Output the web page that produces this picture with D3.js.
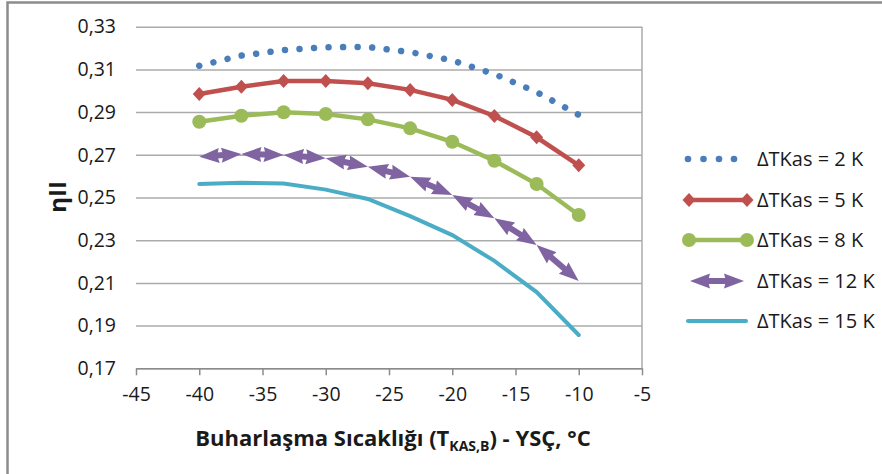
<!DOCTYPE html>
<html>
<head>
<meta charset="utf-8">
<script src="https://cdn.jsdelivr.net/npm/d3@7/dist/d3.min.js"></script>
<style>
  body { margin: 0; background: #fff; }
  text { font-family: "Open Sans", "Liberation Sans", sans-serif; fill: #1a1a1a; }
</style>
</head>
<body>
<div id="chart"></div>
<script>
// evaporation temperature, °C
const temps = [-40, -36.67, -33.33, -30, -26.67, -23.33, -20, -16.67, -13.33, -10];

// second law efficiency for each ΔTKas
const eta2K  = [0.3117, 0.3165, 0.3190, 0.3204, 0.3205, 0.3181, 0.3142, 0.3078, 0.2994, 0.2887];
const eta5K  = [0.2985, 0.3019, 0.3046, 0.3046, 0.3035, 0.3004, 0.2957, 0.2882, 0.2782, 0.2651];
const eta8K  = [0.2855, 0.2883, 0.2899, 0.2891, 0.2866, 0.2824, 0.2761, 0.2672, 0.2563, 0.2418];
const eta12K = [0.2691, 0.2704, 0.2699, 0.2684, 0.2644, 0.2597, 0.2512, 0.2403, 0.2278, 0.2109];
const eta15K = [0.2563, 0.2569, 0.2566, 0.2537, 0.2493, 0.2413, 0.2324, 0.2203, 0.2057, 0.1856];

const seriesNames = ["ΔTKas = 2 K", "ΔTKas = 5 K", "ΔTKas = 8 K", "ΔTKas = 12 K", "ΔTKas = 15 K"];
const xTicks = [-45, -40, -35, -30, -25, -20, -15, -10, -5];
const yTicks = [0.17, 0.19, 0.21, 0.23, 0.25, 0.27, 0.29, 0.31, 0.33];

const width = 882;
const height = 474;
const plotL = 136, plotR = 642, plotT = 26.7, plotB = 368.3;

const colors = ["#4a7ebb", "#c0504d", "#9bbb59", "#8064a2", "#4bacc6"];

const svg = d3.select("#chart").append("svg")
  .attr("width", width)
  .attr("height", height)
  .style("background", "#fff");

// outer chart frame (right/bottom edges are off the picture)
svg.append("path")
  .attr("d", `M7.5,${height + 5}V2.5H${width + 5}`)
  .attr("fill", "none")
  .attr("stroke", "#8c8c8c")
  .attr("stroke-width", 2.5);

const x = d3.scaleLinear().domain([-45, -5]).range([plotL, plotR]);
const y = d3.scaleLinear().domain([0.17, 0.33]).range([plotB, plotT]);

const fmtY = v => d3.format(".2f")(v).replace(".", ",");

// y gridlines + labels
const yAxis = svg.append("g")
  .attr("transform", `translate(${plotL},0)`)
  .call(d3.axisLeft(y).tickValues(yTicks).tickSize(-(plotR - plotL)).tickPadding(20).tickFormat(fmtY));
yAxis.select(".domain").remove();
yAxis.selectAll("line").attr("stroke", "#ababab").attr("stroke-width", 1.5);
yAxis.selectAll("text").style("font-size", "19.5px").attr("fill", "#1a1a1a");

// plot area right edge
svg.append("line")
  .attr("x1", plotR).attr("x2", plotR)
  .attr("y1", plotT).attr("y2", plotB)
  .attr("stroke", "#ababab").attr("stroke-width", 1.5);

// x axis
const xAxis = svg.append("g")
  .attr("transform", `translate(0,${plotB})`)
  .call(d3.axisBottom(x).tickValues(xTicks).tickSize(7).tickSizeOuter(0).tickPadding(12).tickFormat(d => d));
xAxis.select(".domain").attr("stroke", "#8c8c8c").attr("stroke-width", 1.5);
xAxis.selectAll("line").attr("stroke", "#8c8c8c").attr("stroke-width", 1.5);
xAxis.selectAll("text").style("font-size", "19.5px").attr("fill", "#1a1a1a");

// axis titles
const xTitle = svg.append("text")
  .attr("x", (plotL + plotR) / 2 + 4)
  .attr("y", 446)
  .attr("text-anchor", "middle")
  .style("font-size", "22px")
  .style("font-weight", "bold");
xTitle.append("tspan").text("Buharlaşma  Sıcaklığı (T");
xTitle.append("tspan").attr("dy", 5).style("font-size", "14px").text("KAS,B");
xTitle.append("tspan").attr("dy", -5).text(") - YSÇ, °C");

svg.append("text")
  .attr("transform", "translate(66,197) rotate(-90)")
  .attr("text-anchor", "middle")
  .style("font-size", "24px")
  .style("font-weight", "bold")
  .text("ηII");

const defs = svg.append("defs");
defs.append("marker")
  .attr("id", "arrow")
  .attr("viewBox", "0 -8 20 16")
  .attr("refX", 20)
  .attr("refY", 0)
  .attr("markerUnits", "userSpaceOnUse")
  .attr("markerWidth", 20)
  .attr("markerHeight", 16)
  .attr("orient", "auto-start-reverse")
  .append("path")
  .attr("d", "M0,-7.5L20,0L0,7.5L2,0Z")
  .attr("fill", colors[3]);

const line = d3.line().x(d => x(d[0])).y(d => y(d[1]));
const pts = vals => temps.map((t, i) => [t, vals[i]]);

// 2 K — round dotted line, dot period fitted so both ends get a dot
const dotted = svg.append("path")
  .attr("d", line(pts(eta2K)))
  .attr("fill", "none")
  .attr("stroke", colors[0])
  .attr("stroke-width", 6.5)
  .attr("stroke-linecap", "round");
const dotLen = dotted.node().getTotalLength();
const dotN = Math.round(dotLen / 14.8);
dotted.attr("stroke-dasharray", `0.01,${(dotLen - 1) / dotN - 0.01}`);

// 15 K — plain line
svg.append("path")
  .attr("d", line(pts(eta15K)))
  .attr("fill", "none")
  .attr("stroke", colors[4])
  .attr("stroke-width", 4)
  .attr("stroke-linecap", "round");

// 12 K — every segment carries arrowheads at both ends
const segs = d3.pairs(pts(eta12K)).map(([a, b]) => {
  const x1 = x(a[0]), y1 = y(a[1]), x2 = x(b[0]), y2 = y(b[1]);
  const len = Math.hypot(x2 - x1, y2 - y1);
  const ux = (x2 - x1) / len, uy = (y2 - y1) / len;
  return { x1, y1, x2, y2, ux, uy };
});
const arrowGroup = svg.append("g");
arrowGroup.selectAll("line.shaft")
  .data(segs)
  .enter()
  .append("line")
  .attr("class", "shaft")
  .attr("x1", d => d.x1 + d.ux * 10).attr("y1", d => d.y1 + d.uy * 10)
  .attr("x2", d => d.x2 - d.ux * 10).attr("y2", d => d.y2 - d.uy * 10)
  .attr("stroke", colors[3])
  .attr("stroke-width", 6);
arrowGroup.selectAll("path.heads")
  .data(segs)
  .enter()
  .append("path")
  .attr("class", "heads")
  .attr("d", d => `M${d.x1},${d.y1}L${d.x2},${d.y2}`)
  .attr("stroke", "none")
  .attr("fill", "none")
  .attr("marker-start", "url(#arrow)")
  .attr("marker-end", "url(#arrow)");

// 8 K — circles
svg.append("path")
  .attr("d", line(pts(eta8K)))
  .attr("fill", "none")
  .attr("stroke", colors[2])
  .attr("stroke-width", 4.5);
svg.append("g").selectAll("circle")
  .data(pts(eta8K))
  .enter()
  .append("circle")
  .attr("cx", d => x(d[0]))
  .attr("cy", d => y(d[1]))
  .attr("r", 7)
  .attr("fill", colors[2]);

// 5 K — diamonds
const diamond = "M0,-7L6.5,0L0,7L-6.5,0Z";
svg.append("path")
  .attr("d", line(pts(eta5K)))
  .attr("fill", "none")
  .attr("stroke", colors[1])
  .attr("stroke-width", 4.5);
svg.append("g").selectAll("path")
  .data(pts(eta5K))
  .enter()
  .append("path")
  .attr("d", diamond)
  .attr("transform", d => `translate(${x(d[0])},${y(d[1])})`)
  .attr("fill", colors[1]);

// legend
const legendY = [159, 200, 240, 281, 321];
const lx1 = 689, lx2 = 747;
const legend = svg.append("g");

legend.append("g").selectAll("circle")
  .data([688, 703.5, 719, 734])
  .enter()
  .append("circle")
  .attr("cx", d => d).attr("cy", legendY[0]).attr("r", 3.3)
  .attr("fill", colors[0]);

legend.append("line")
  .attr("x1", lx1).attr("x2", lx2).attr("y1", legendY[1]).attr("y2", legendY[1])
  .attr("stroke", colors[1]).attr("stroke-width", 4.5);
legend.append("g").selectAll("path")
  .data([lx1, lx2])
  .enter()
  .append("path")
  .attr("d", diamond)
  .attr("transform", d => `translate(${d},${legendY[1]})`)
  .attr("fill", colors[1]);

legend.append("line")
  .attr("x1", lx1).attr("x2", lx2).attr("y1", legendY[2]).attr("y2", legendY[2])
  .attr("stroke", colors[2]).attr("stroke-width", 4.5);
legend.append("g").selectAll("circle")
  .data([lx1, lx2])
  .enter()
  .append("circle")
  .attr("cx", d => d).attr("cy", legendY[2]).attr("r", 7)
  .attr("fill", colors[2]);

legend.append("line")
  .attr("x1", 700).attr("x2", 734).attr("y1", legendY[3]).attr("y2", legendY[3])
  .attr("stroke", colors[3]).attr("stroke-width", 6);
legend.append("path")
  .attr("d", `M690,${legendY[3]}L744,${legendY[3]}`)
  .attr("stroke", "none")
  .attr("marker-start", "url(#arrow)")
  .attr("marker-end", "url(#arrow)");

legend.append("line")
  .attr("x1", 688).attr("x2", 746).attr("y1", legendY[4]).attr("y2", legendY[4])
  .attr("stroke", colors[4]).attr("stroke-width", 4).attr("stroke-linecap", "round");

legend.selectAll("text")
  .data(seriesNames)
  .enter()
  .append("text")
  .attr("x", 757)
  .attr("y", (d, i) => legendY[i])
  .attr("dy", "0.35em")
  .style("font-size", "20px")
  .text(d => d);
</script>
</body>
</html>
